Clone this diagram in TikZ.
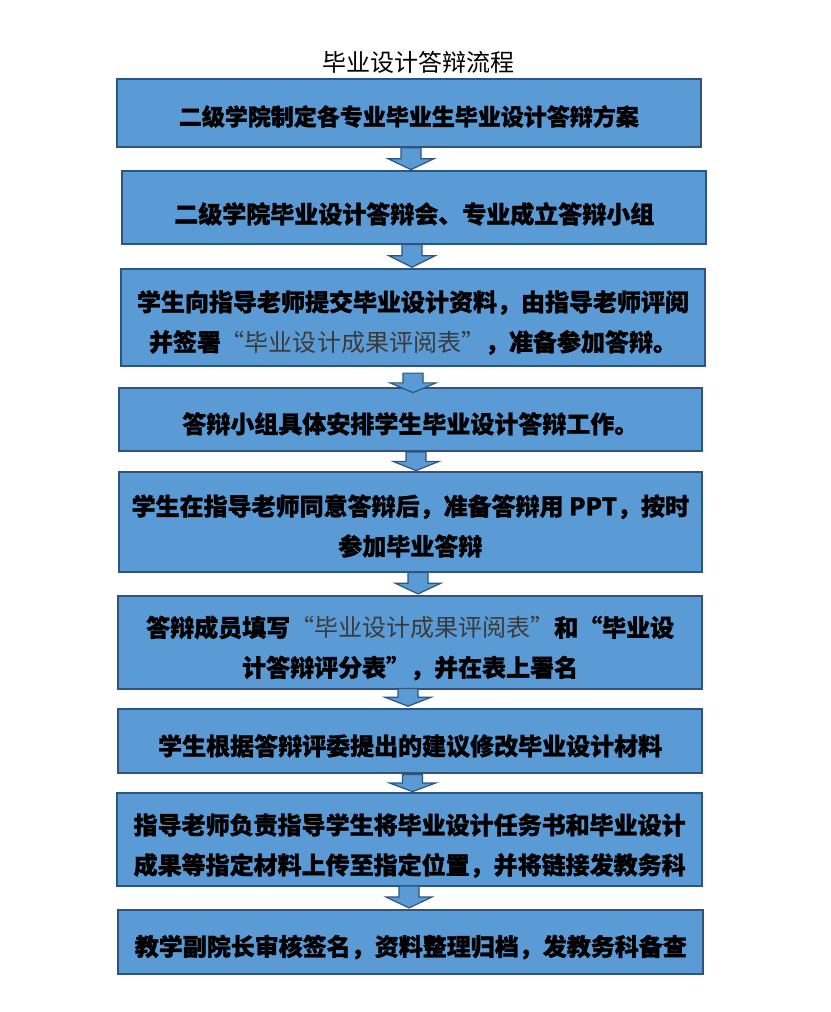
\documentclass[tikz,border=0pt]{standalone}
\usepackage{fontspec}
\newfontfamily\cjk[BoldFeatures={FakeBold=1.2}]{Noto Sans CJK SC}
\usetikzlibrary{calc,fit}
\definecolor{boxfill}{RGB}{91,155,213}
\definecolor{boxline}{RGB}{46,84,128}
\definecolor{quotegray}{RGB}{58,58,58}
\newcommand\qt[1]{{\mdseries\color{quotegray}#1}}
\newcommand\barrow[4]{%
  \draw[arrowshape] let \p1=(#1.south), \p2=(#2.north), \n1={(\y1+\y2)/2-(#4)} in
  ({#3-10bp},{\y1-(#4)}) -- ({#3-10bp},\n1) -- ({#3-23bp},\n1) -- (#3,{\y2-(#4)})
  -- ({#3+23bp},\n1) -- ({#3+10bp},\n1) -- ({#3+10bp},{\y1-(#4)}) -- cycle;}
\begin{document}
\begin{tikzpicture}[x=1bp, y=-1bp,
  box/.style={draw=boxline, fill=boxfill, line width=2.2bp, inner sep=0pt},
  txt/.style={font={\cjk\bfseries\fontsize{24bp}{40bp}\selectfont}, align=center, text=black, inner sep=0pt},
  ttl/.style={font={\cjk\fontsize{24bp}{30bp}\selectfont}, text=black, inner sep=0pt},
  arrowshape/.style={draw=boxline, fill=boxfill, line width=1.2bp, line join=miter}]
\fill[white] (0,0) rectangle (831,1012);
\useasboundingbox (0,0) rectangle (831,1012);

\node[ttl] (title) at (418,62.5) {毕业设计答辩流程};

\node[box, fit={(116.7,79.3) (701,146.7)}] (b1) {};
\node[box, fit={(122.3,170.7) (706.3,244.3)}] (b2) {};
\node[box, fit={(120.7,269.3) (705.3,366)}] (b3) {};
\node[box, fit={(118.7,387.7) (702,451)}] (b4) {};
\node[box, fit={(118.7,471.7) (702,572.3)}] (b5) {};
\node[box, fit={(118.3,596) (702,689.3)}] (b6) {};
\node[box, fit={(118.3,709.3) (702,773.3)}] (b7) {};
\node[box, fit={(117.3,792.7) (702,886)}] (b8) {};
\node[box, fit={(118.3,910) (703.3,974)}] (b9) {};

\node[txt, font={\cjk\bfseries\fontsize{23bp}{40bp}\selectfont}] (t1) at ([yshift=-3.5bp]b1.center) {二级学院制定各专业毕业生毕业设计答辩方案};
\node[txt] (t2) at ([yshift=-6.5bp]b2.center) {二级学院毕业设计答辩会、专业成立答辩小组};
\node[txt] (t3) at ([yshift=-4.8bp]b3.center) {学生向指导老师提交毕业设计资料，由指导老师评阅\\并签署\qt{“毕业设计成果评阅表”}，准备参加答辩。};
\node[txt] (t4) at ([yshift=-4.5bp]b4.center) {答辩小组具体安排学生毕业设计答辩工作。};
\node[txt] (t5) at ([yshift=-4bp]b5.center) {学生在指导老师同意答辩后，准备答辩用 PPT，按时\\参加毕业答辩};
\node[txt] (t6) at ([yshift=-5.3bp]b6.center) {答辩成员填写\qt{“毕业设计成果评阅表”}和“毕业设\\计答辩评分表”，并在表上署名};
\node[txt] (t7) at ([yshift=-4.7bp]b7.center) {学生根据答辩评委提出的建议修改毕业设计材料};
\node[txt] (t8) at ([yshift=-6.2bp]b8.center) {指导老师负责指导学生将毕业设计任务书和毕业设计\\成果等指定材料上传至指定位置，并将链接发教务科};
\node[txt] (t9) at ([yshift=-5bp]b9.center) {教学副院长审核签名，资料整理归档，发教务科备查};

\barrow{b1}{b2}{411bp}{0bp}
\barrow{b2}{b3}{412bp}{-1bp}
\barrow{b3}{b4}{413bp}{6bp}
\barrow{b4}{b5}{416bp}{0bp}
\barrow{b5}{b6}{418bp}{-1bp}
\barrow{b6}{b7}{408bp}{-2bp}
\barrow{b7}{b8}{412.5bp}{0bp}
\barrow{b8}{b9}{409bp}{-1bp}
\end{tikzpicture}
\end{document}
